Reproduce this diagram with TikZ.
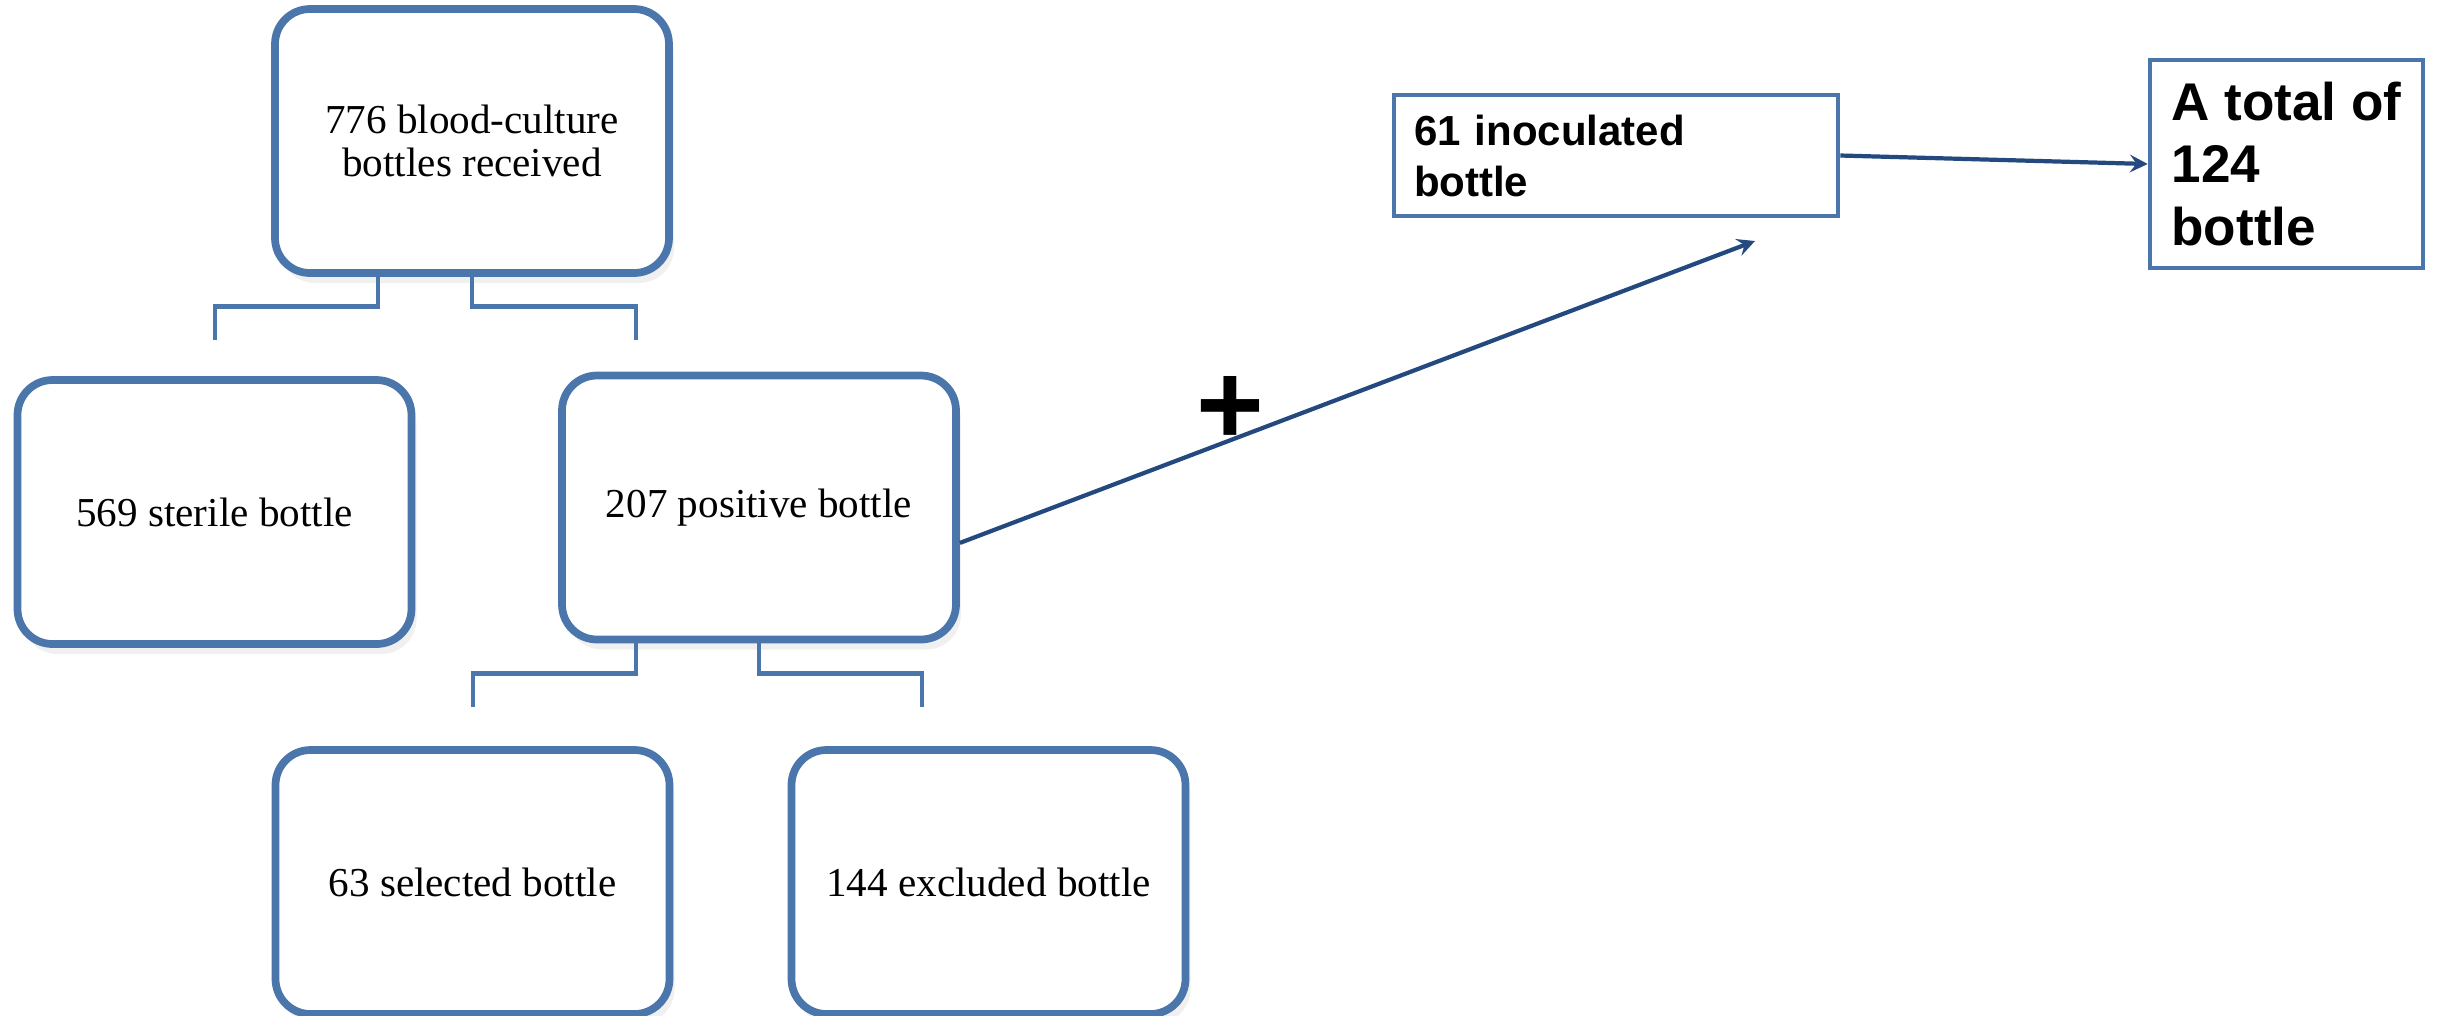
\documentclass[tikz,border=0pt]{standalone}
\usepackage{fontspec}
\setmainfont{Liberation Serif}
\newfontfamily\arialfont{Liberation Sans}
\usetikzlibrary{shadows}
\definecolor{boxblue}{HTML}{4A76AC}
\definecolor{arrowblue}{HTML}{23497F}

\begin{document}
\begin{tikzpicture}[
  roundbox/.style={draw=boxblue, fill=white, line width=2.2pt, rounded corners=0.35cm,
    minimum width=3.94cm, minimum height=2.64cm, align=center,
    font=\fontsize{11.7}{12.2}\selectfont,
    drop shadow={opacity=0.12, shadow xshift=0.05cm, shadow yshift=-0.1cm}},
  plainbox/.style={draw=boxblue, fill=white, line width=1.3pt, align=left,
    inner ysep=0pt, font=\arialfont\bfseries},
  bracket/.style={draw=boxblue, line width=1.4pt},
  flow/.style={draw=arrowblue, line width=1.2pt, -stealth}
]
  \useasboundingbox (0,0) rectangle (24.41,-10.15);

  % Nodes
  \node[roundbox] (recv) at (4.72,-1.41) {776 blood-culture\\bottles received};
  \node[roundbox] (sterile) at (2.145,-5.12) {569 sterile bottle};
  \node[roundbox] (pos) at (7.59,-5.075) {207 positive bottle};
  \node[roundbox] (sel) at (4.725,-8.82) {63 selected bottle};
  \node[roundbox] (excl) at (9.885,-8.82) {144 excluded bottle};
  \node[plainbox, minimum width=4.44cm, minimum height=1.21cm, text width=4.04cm,
    inner xsep=0.2cm, font=\arialfont\bfseries\fontsize{11.95}{14.5}\selectfont]
    (inoc) at (16.16,-1.555) {61 inoculated\\bottle};
  \node[plainbox, minimum width=2.73cm, minimum height=2.08cm, inner xsep=0pt,
    font=\arialfont\bfseries\fontsize{15.1}{17.9}\selectfont]
    (total) at (22.865,-1.64) {A total of\\124\\bottle};
  \node[font=\arialfont\bfseries\fontsize{33}{33}\selectfont, inner sep=0pt] (plus) at (12.30,-4.10) {+};

  % Bracket ends
  \coordinate (sterile-in) at (2.15,-3.40);
  \coordinate (pos-in) at (6.36,-3.40);
  \coordinate (sel-in) at (4.73,-7.07);
  \coordinate (excl-in) at (9.22,-7.07);
  \coordinate (inoc-below) at (17.55,-2.41);

  % Brackets
  \draw[bracket] ([xshift=-0.94cm]recv.south) -- ++(0,-0.30) -| (sterile-in);
  \draw[bracket] (recv.south) -- ++(0,-0.30) -| (pos-in);
  \draw[bracket] ([xshift=-1.23cm]pos.south) -- ++(0,-0.30) -| (sel-in);
  \draw[bracket] (pos.south) -- ++(0,-0.30) -| (excl-in);

  % Arrows
  \draw[flow] (pos.-10) -- (inoc-below);
  \draw[flow] (inoc.east) -- (total.west);

\end{tikzpicture}
\end{document}
